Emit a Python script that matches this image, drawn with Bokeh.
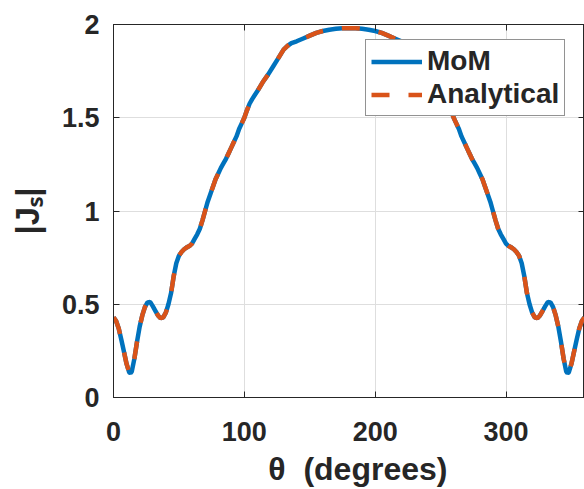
from bokeh.plotting import figure
from bokeh.models import Range1d, LinearAxis, Legend, LegendItem, FixedTicker, CustomJSTickFormatter
from bokeh.embed import file_html
from bokeh.resources import INLINE

theta = [0, 2, 4, 6, 8, 10, 12, 13, 14, 16, 18, 20, 22, 24, 26, 28, 30, 32, 34, 36, 38, 40,
         42, 44, 46, 48, 50, 52, 54, 56, 58, 60, 62, 64, 66, 68, 70, 72, 74, 76, 78, 80,
         82, 84, 86, 88, 90, 92, 94, 96, 98, 100, 102, 104, 106, 108, 110, 114, 118, 122,
         126, 130, 133, 136, 140, 145, 150, 155, 160, 165, 170, 175, 180,
         185, 190, 195, 200, 205, 210, 215, 220, 224, 227, 230, 234, 238, 242, 246, 250,
         252, 254, 256, 258, 260, 262, 264, 266, 268, 270, 272, 274, 276, 278, 280, 282,
         284, 286, 288, 290, 292, 294, 296, 298, 300, 302, 304, 306, 308, 310, 312, 314,
         316, 318, 320, 322, 324, 326, 328, 330, 332, 334, 336, 338, 340, 342, 344, 346,
         347, 348, 350, 352, 354, 356, 358, 360]

mom = [0.43, 0.41, 0.37, 0.31, 0.245, 0.18, 0.135, 0.13, 0.14, 0.21, 0.30, 0.38, 0.44,
       0.485, 0.51, 0.512, 0.49, 0.465, 0.44, 0.425, 0.43, 0.455, 0.50, 0.56, 0.65, 0.72,
       0.76, 0.78, 0.795, 0.805, 0.812, 0.825, 0.85, 0.875, 0.905, 0.95, 1.0, 1.05, 1.09,
       1.13, 1.17, 1.2, 1.23, 1.255, 1.28, 1.31, 1.34, 1.37, 1.40, 1.44, 1.47, 1.50, 1.54,
       1.575, 1.60, 1.622, 1.643, 1.69, 1.73, 1.775, 1.82, 1.865, 1.885, 1.9, 1.91, 1.925,
       1.94, 1.955, 1.965, 1.972, 1.977, 1.98, 1.98,
       1.98, 1.977, 1.972, 1.965, 1.955, 1.94, 1.925, 1.91, 1.9, 1.885, 1.865, 1.82, 1.775,
       1.73, 1.69, 1.643, 1.622, 1.60, 1.575, 1.54, 1.50, 1.47, 1.44, 1.40, 1.37, 1.34,
       1.31, 1.28, 1.255, 1.23, 1.2, 1.17, 1.13, 1.09, 1.05, 1.0, 0.95, 0.905, 0.875, 0.85,
       0.825, 0.812, 0.805, 0.795, 0.78, 0.76, 0.72, 0.65, 0.56, 0.50, 0.455, 0.43, 0.425,
       0.44, 0.465, 0.49, 0.512, 0.51, 0.485, 0.44, 0.38, 0.30, 0.21, 0.14, 0.13, 0.135,
       0.18, 0.245, 0.31, 0.37, 0.41, 0.43]

analytical = list(mom)

xticks = [0, 100, 200, 300]
yticks = [0, 0.5, 1, 1.5, 2]
ytick_labels = ["0", "0.5", "1", "1.5", "2"]
x_title = "\u00a0\u00a0θ\u00a0\u00a0(degrees)"
y_title = "|Jₛ|"

FONT = "Liberation Sans"
DARK = "#262626"
BLUE = "#0072BD"
ORANGE = "#D95319"

p = figure(width=584, height=489, x_range=Range1d(0, 360), y_range=Range1d(0, 2),
           output_backend="svg", toolbar_location=None,
           min_border_left=113, min_border_right=0, min_border_top=24, min_border_bottom=89)
p.background_fill_color = "white"
p.border_fill_color = "white"
p.outline_line_color = DARK
p.outline_line_width = 1

p.xaxis.ticker = FixedTicker(ticks=xticks)
p.yaxis.ticker = FixedTicker(ticks=yticks)
p.yaxis.major_label_overrides = {float(t): l for t, l in zip(yticks, ytick_labels)}

for ax in [p.xaxis[0], p.yaxis[0]]:
    ax.axis_line_color = DARK
    ax.axis_line_width = 1
    ax.major_tick_line_color = DARK
    ax.major_tick_in = 6
    ax.major_tick_out = 0
    ax.minor_tick_line_color = None
    ax.major_label_text_font = FONT
    ax.major_label_text_font_style = "bold"
    ax.major_label_text_font_size = "27px"
    ax.major_label_text_color = DARK
    ax.axis_label_text_font = FONT
    ax.axis_label_text_font_style = "bold"
    ax.axis_label_text_color = DARK
p.xaxis.major_label_standoff = 24
p.yaxis.major_label_standoff = 14
p.xaxis.axis_label = x_title
p.xaxis.axis_label_text_font_size = "32px"
p.xaxis.axis_label_standoff = 7
p.yaxis.axis_label = y_title
p.yaxis.axis_label_text_font_size = "33px"
p.yaxis.axis_label_standoff = 13

blank = CustomJSTickFormatter(code="return ''")
for side, tick in (("above", xticks), ("right", yticks)):
    ax = LinearAxis(ticker=FixedTicker(ticks=tick), axis_line_color=DARK,
                    major_tick_line_color=DARK, major_tick_in=6, major_tick_out=0,
                    minor_tick_line_color=None, formatter=blank,
                    major_label_standoff=0)
    p.add_layout(ax, side)

p.xgrid.ticker = FixedTicker(ticks=xticks)
p.ygrid.ticker = FixedTicker(ticks=yticks)
p.grid.grid_line_color = "#dedede"
p.grid.grid_line_width = 1

r1 = p.line(theta, mom, line_color=BLUE, line_width=4.5)
r2 = p.line(theta, analytical, line_color=ORANGE, line_width=4.5, line_dash="18 19")

legend = Legend(items=[LegendItem(label="MoM", renderers=[r1]),
                       LegendItem(label="Analytical", renderers=[r2])],
                location=(252, 281))
legend.label_text_font = FONT
legend.label_text_font_style = "bold"
legend.label_text_font_size = "28px"
legend.label_text_color = DARK
legend.border_line_color = DARK
legend.border_line_width = 1
legend.background_fill_color = "white"
legend.background_fill_alpha = 1
legend.padding = 5
legend.spacing = 1
legend.margin = 0
legend.glyph_width = 51
legend.glyph_height = 27
legend.label_height = 27
legend.label_standoff = 5
p.add_layout(legend)

open("out.html", "w").write(file_html(p, INLINE))
